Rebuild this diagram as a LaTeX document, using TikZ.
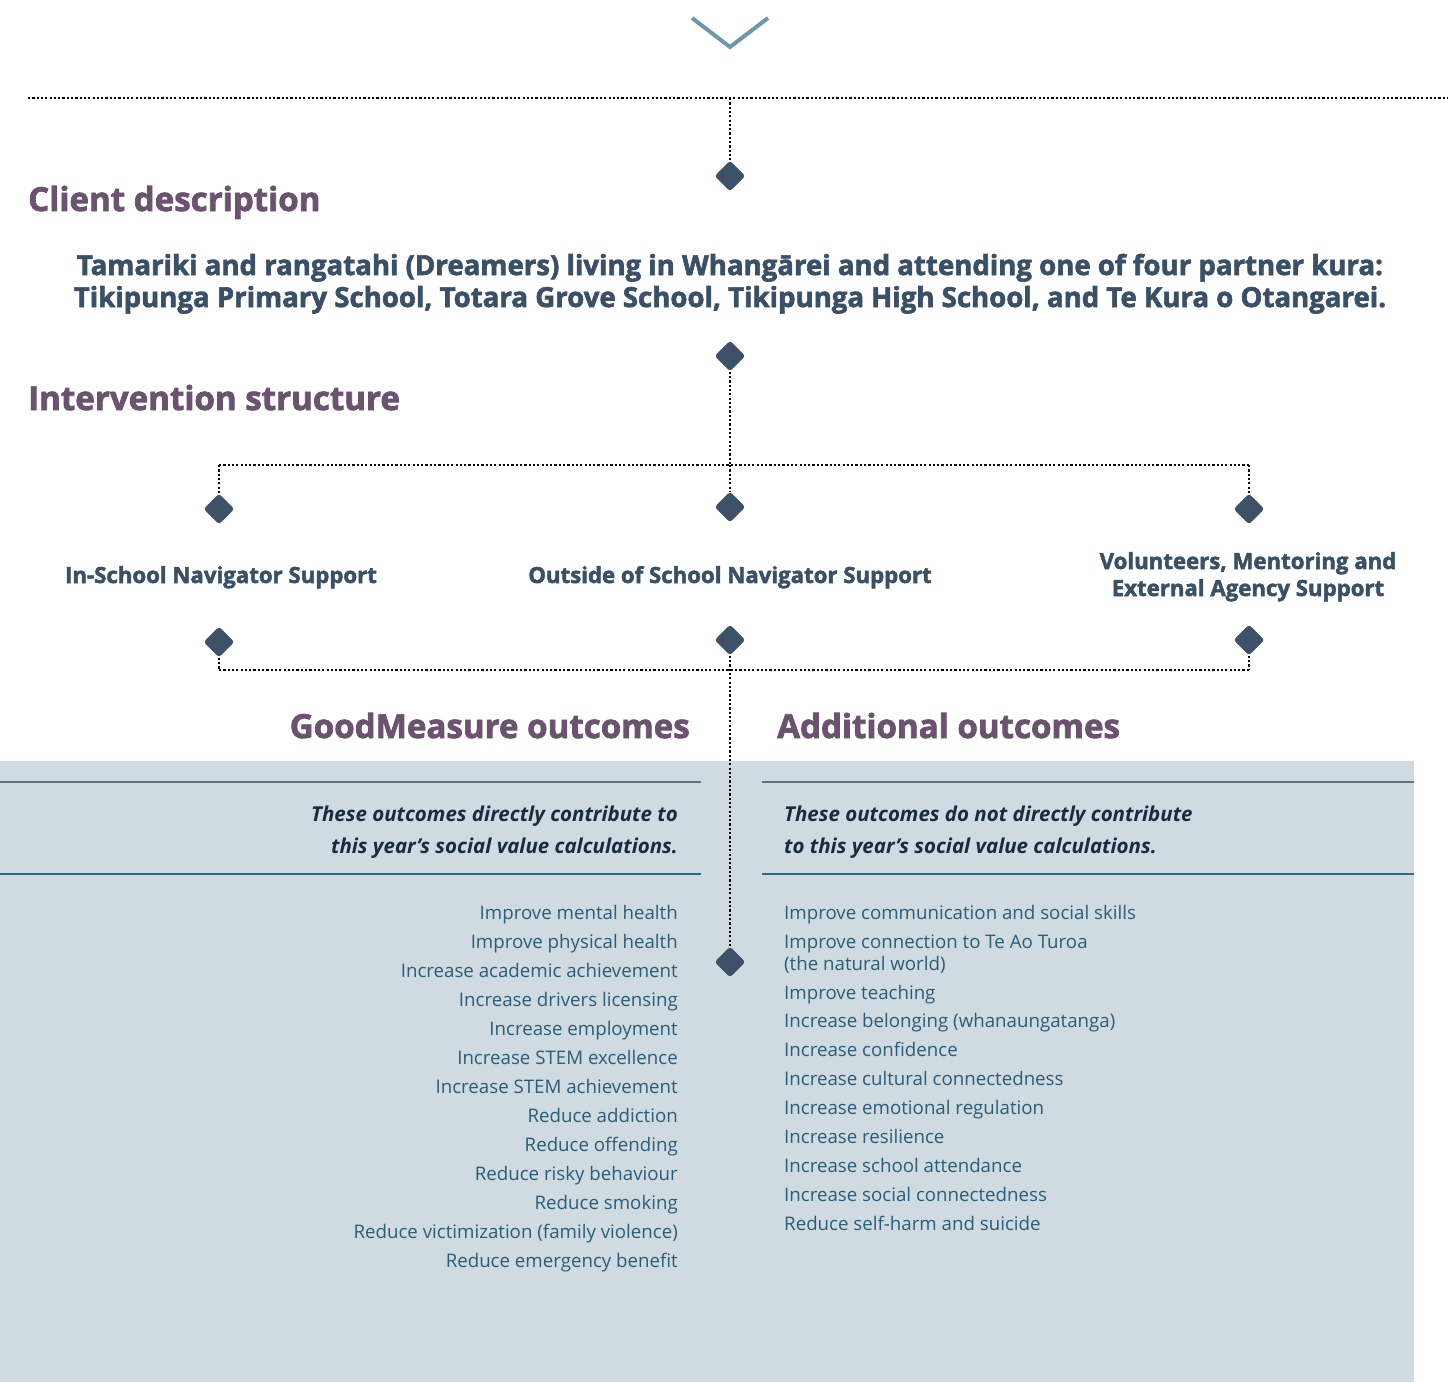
\documentclass[tikz,border=0pt]{standalone}
\usepackage{fontspec}
\setmainfont{Open Sans}
\newfontfamily\heavyfont{Open Sans}[BoldFeatures={FakeBold=2.2}]
\usetikzlibrary{shapes.geometric}
\definecolor{headc}{HTML}{6B5370}
\definecolor{darkc}{HTML}{3A5066}
\definecolor{italc}{HTML}{1A2A3F}
\definecolor{listc}{HTML}{2B5D78}
\definecolor{dmd}{HTML}{3D5268}
\definecolor{panel}{HTML}{CFDBE1}
\definecolor{chev}{HTML}{6F97AA}
\definecolor{ruleA}{HTML}{5C7282}
\definecolor{ruleB}{HTML}{2F6C88}
\tikzset{
  dotline/.style={line width=2.2pt, dash pattern=on 2.2pt off 2.1pt, black},
  dmdnode/.style={diamond, aspect=1, minimum size=31pt, inner sep=0pt, fill=dmd, rounded corners=3pt},
  heading/.style={font=\heavyfont\bfseries\fontsize{33.1}{36}\selectfont, text=headc, inner sep=0pt},
  desc/.style={font=\heavyfont\bfseries\fontsize{27.6}{32}\selectfont, text=darkc, inner sep=0pt},
  branch/.style={font=\heavyfont\bfseries\fontsize{22.2}{27}\selectfont, text=darkc, inner sep=0pt},
  note/.style={font=\bfseries\itshape\fontsize{20.5}{32}\selectfont, text=italc, inner sep=0pt},
  item/.style={font=\fontsize{18.7}{22}\selectfont, text=listc, inner sep=0pt},
  ruletop/.style={ruleA, line width=1.5pt},
  rulebot/.style={ruleB, line width=1.5pt},
}
\begin{document}
\begin{tikzpicture}[x=1pt, y=-1pt]
\useasboundingbox (0,0) rectangle (1448,1382);

% shaded panel behind the outcome lists
\fill[panel] (0,761) rectangle (1414,1382);
\draw[ruletop] (0,782) -- (701,782);
\draw[rulebot] (0,874) -- (701,874);
\draw[ruletop] (762,782) -- (1414,782);
\draw[rulebot] (762,874) -- (1414,874);

% chevron at the top
\draw[chev, line width=4pt] (692,18) -- (730,47) -- (768,18);

% connector points
\coordinate (tl) at (28,98);
\coordinate (tr) at (1448,98);
\coordinate (tm) at (730,98);
\coordinate (sl) at (219,465);
\coordinate (sm) at (730,465);
\coordinate (sr) at (1249,465);
\coordinate (jl) at (219,670);
\coordinate (jm) at (730,670);
\coordinate (jr) at (1249,670);

% diamonds
\node[dmdnode] (d1) at (730,176) {};
\node[dmdnode] (d2) at (730,356) {};
\node[dmdnode] (d3) at (219,509) {};
\node[dmdnode] (d4) at (730,507) {};
\node[dmdnode] (d5) at (1249,509) {};
\node[dmdnode] (d6) at (219,642) {};
\node[dmdnode] (d7) at (730,640) {};
\node[dmdnode] (d8) at (1249,640) {};
\node[dmdnode] (d9) at (730,962) {};

% dotted connectors
\draw[dotline] (tl) -- (tr);
\draw[dotline] (tm) -- (d1.north);
\draw[dotline] (d2.south) -- (sm);
\draw[dotline] (sl) -- (sr);
\draw[dotline] (sl) -- (d3.north);
\draw[dotline] (sm) -- (d4.north);
\draw[dotline] (sr) -- (d5.north);
\draw[dotline] (d6.south) -- (jl);
\draw[dotline] (d8.south) -- (jr);
\draw[dotline] (jl) -- (jr);
\draw[dotline] (d7.south) -- (d9.north);

% headings
\node[heading, anchor=base west] (hclient) at (28,211) {Client description};
\node[heading, anchor=base west] (hinter) at (28,410) {Intervention structure};
\node[heading, anchor=base east] (hgood) at (690,738) {GoodMeasure outcomes};
\node[heading, anchor=base west] (hadd) at (777,738) {Additional outcomes};

% client description
\node[desc, anchor=base] (cd1) at (730,275) {Tamariki and rangatahi (Dreamers) living in Whangārei and attending one of four partner kura:};
\node[desc, anchor=base] (cd2) at (730,307) {Tikipunga Primary School, Totara Grove School, Tikipunga High School, and Te Kura o Otangarei.};

% intervention branches
\node[branch, anchor=base] (b1) at (221,583) {In-School Navigator Support};
\node[branch, anchor=base] (b2) at (730,583) {Outside of School Navigator Support};
\node[branch, anchor=base] (b3a) at (1248,569) {Volunteers, Mentoring and};
\node[branch, anchor=base] (b3b) at (1248,596) {External Agency Support};

% panel notes
\node[note, anchor=base east] (nl1) at (678,821) {These outcomes directly contribute to};
\node[note, anchor=base east] (nl2) at (678,853) {this year’s social value calculations.};
\node[note, anchor=base west] (nr1) at (784,821) {These outcomes do not directly contribute};
\node[note, anchor=base west] (nr2) at (784,853) {to this year’s social value calculations.};

% GoodMeasure outcome list
\foreach \t [count=\i] in {
  Improve mental health,
  Improve physical health,
  Increase academic achievement,
  Increase drivers licensing,
  Increase employment,
  Increase STEM excellence,
  Increase STEM achievement,
  Reduce addiction,
  Reduce offending,
  Reduce risky behaviour,
  Reduce smoking,
  Reduce victimization (family violence),
  Reduce emergency benefit}
  \node[item, anchor=base east] (gm\i) at (678,{919+29*(\i-1)}) {\t};

% additional outcome list
\foreach \t/\yy [count=\i] in {
  Improve communication and social skills/919,
  Improve connection to Te Ao Turoa/948,
  (the natural world)/970,
  Improve teaching/999,
  Increase belonging (whanaungatanga)/1027,
  Increase confidence/1056,
  Increase cultural connectedness/1085,
  Increase emotional regulation/1114,
  Increase resilience/1143,
  Increase school attendance/1172,
  Increase social connectedness/1201,
  Reduce self-harm and suicide/1230}
  \node[item, anchor=base west] (ad\i) at (784,\yy) {\t};

\end{tikzpicture}
\end{document}
